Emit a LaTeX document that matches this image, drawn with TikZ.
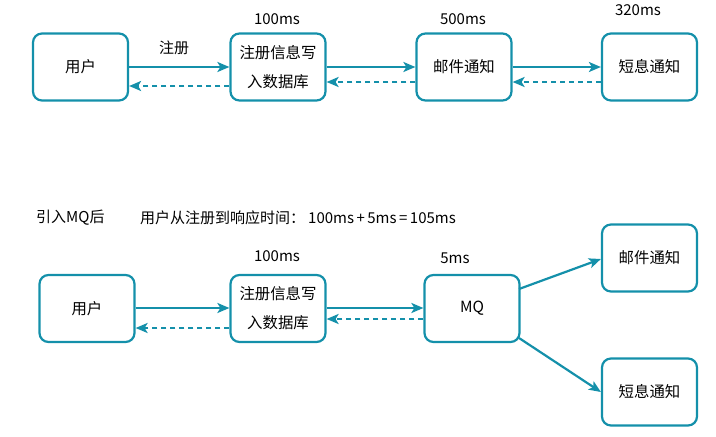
\documentclass[tikz,border=0pt]{standalone}
\usepackage{fontspec}
\setmainfont{Noto Sans CJK SC}
\usetikzlibrary{arrows.meta}
\definecolor{teal1}{HTML}{1490AA}
\tikzset{
  box/.style={draw=teal1, line width=2.2pt, rounded corners=9pt, minimum width=95pt, minimum height=67pt, inner sep=0pt, align=center, font=\fontsize{15.4}{29}\selectfont},
  lbl/.style={font=\fontsize{15}{17}\selectfont, inner sep=0pt},
  solidarr/.style={draw=teal1, line width=2.2pt, -{Stealth[length=12pt,width=10pt,inset=3pt]}},
  dasharr/.style={draw=teal1, line width=2.2pt, dash pattern=on 5pt off 4pt, -{Stealth[length=12pt,width=10pt,inset=3pt]}}
}
\begin{document}
\begin{tikzpicture}[x=1pt,y=-1pt]
\useasboundingbox (0,0) rectangle (716,437);
% top row
\node[box] (u1) at (80.5,67) {用户};
\node[box] (r1) at (278,67) {注册信息写\\入数据库};
\node[box] (m1) at (464,67) {邮件通知};
\node[box] (s1) at (649.5,67) {短息通知};
\node[lbl] (t1) at (277,19) {100ms};
\node[lbl] (t2) at (463,19) {500ms};
\node[lbl] (t3) at (638,10) {320ms};
\node[lbl] (zc) at (174,48) {注册};
\draw[solidarr] (u1.east |- 0,67) -- (r1.west |- 0,67);
\draw[dasharr] (r1.west |- 0,86) -- (u1.east |- 0,86);
\draw[solidarr] (r1.east |- 0,67) -- (m1.west |- 0,67);
\draw[dasharr] (m1.west |- 0,82) -- (r1.east |- 0,82);
\draw[solidarr] (m1.east |- 0,67) -- (s1.west |- 0,67);
\draw[dasharr] (s1.west |- 0,82) -- (m1.east |- 0,82);
% bottom
\node[lbl, anchor=west] (h1) at (36,218) {引入MQ后};
\node[lbl, anchor=west] (h2) at (140,218) {用户从注册到响应时间：\hspace{3pt}100ms\,+\,5ms\,=\,105ms};
\node[box] (u2) at (87,308.5) {用户};
\node[box] (r2) at (278,308.5) {注册信息写\\入数据库};
\node[box] (q2) at (472,308.5) {MQ};
\node[box] (m2) at (649.5,258) {邮件通知};
\node[box] (s2) at (649.5,392) {短息通知};
\node[lbl] (t4) at (277,256) {100ms};
\node[lbl] (t5) at (455,258) {5ms};
\draw[solidarr] (u2.east |- 0,308) -- (r2.west |- 0,308);
\draw[dasharr] (r2.west |- 0,328) -- (u2.east |- 0,328);
\draw[solidarr] (r2.east |- 0,308) -- (q2.west |- 0,308);
\draw[dasharr] (q2.west |- 0,319) -- (r2.east |- 0,319);
\coordinate (qa) at (519,289);
\coordinate (qb) at (519,338);
\draw[solidarr] (qa) -- (m2.west |- 0,259);
\draw[solidarr] (qb) -- (s2.west |- 0,392);
\end{tikzpicture}
\end{document}
